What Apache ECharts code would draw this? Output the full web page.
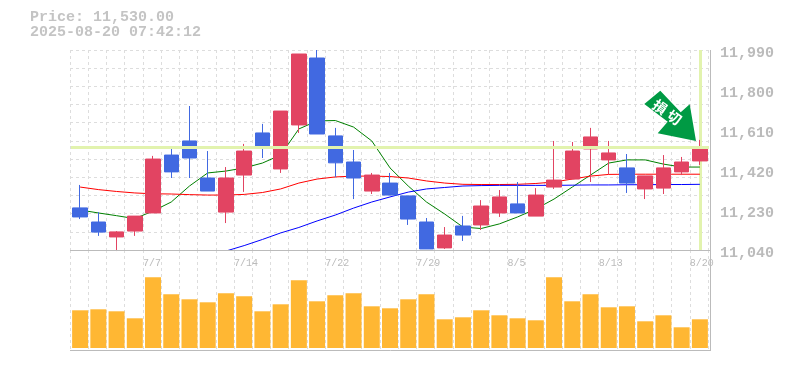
<!DOCTYPE html>
<html><head><meta charset="utf-8">
<style>html,body{margin:0;padding:0;background:#fff}#c{width:785px;height:370px}</style>
<script src="https://cdn.jsdelivr.net/npm/echarts@6/dist/echarts.min.js"></script>
</head><body><div id="c"></div>
<script>
const dates=['7/1','7/2','7/3','7/4','7/7','7/8','7/9','7/10','7/11','7/14','7/15','7/16','7/17','7/18','7/22','7/23','7/24','7/25','7/28','7/29','7/30','7/31','8/1','8/4','8/5','8/6','8/7','8/8','8/12','8/13','8/14','8/15','8/18','8/19','8/20'];
const labeledDates=['7/7','7/14','7/22','7/29','8/5','8/13','8/20'];
const priceLabels=['11,040','11,230','11,420','11,610','11,800','11,990'];
const opens=[11240,11173,11102,11130,11216,11491,11558,11382,11220,11396,11596,11425,11634,11952,11582,11458,11320,11358,11297,11173,11050,11154,11159,11216,11259,11201,11339,11377,11520,11468,11430,11330,11334,11411,11463];
const closes=[11197,11125,11126,11201,11472,11411,11477,11320,11382,11510,11530,11700,11971,11591,11454,11382,11396,11301,11187,11045,11111,11111,11249,11292,11216,11301,11372,11510,11577,11501,11358,11392,11430,11458,11530];
const lows=[11187,11107,11035,11107,11216,11382,11382,11320,11168,11316,11477,11406,11596,11591,11387,11282,11306,11301,11159,11045,11045,11083,11135,11197,11216,11201,11330,11377,11363,11401,11311,11282,11306,11396,11444];
const highs=[11349,11220,11130,11201,11487,11525,11724,11510,11434,11544,11639,11700,11971,11990,11620,11515,11406,11406,11297,11192,11149,11202,11277,11325,11363,11334,11558,11553,11620,11558,11496,11392,11491,11482,11563];
const ma5=[11230,11216,11203,11189,11225,11268,11344,11406,11415,11430,11453,11491,11615,11653,11655,11624,11558,11430,11344,11268,11211,11149,11142,11164,11197,11235,11282,11339,11396,11453,11468,11468,11448,11434,11434];
const ma25=[11339,11327,11318,11311,11307,11306,11303,11301,11301,11304,11313,11330,11358,11377,11387,11391,11391,11389,11382,11368,11358,11352,11351,11351,11352,11356,11363,11377,11391,11399,11400,11400,11400,11400,11400];
const ma75=[null,null,null,null,null,null,null,null,11035,11061,11090,11121,11147,11178,11206,11239,11268,11292,11315,11330,11337,11344,11346,11347,11347,11347,11347,11348,11349,11349,11350,11350,11351,11351,11352];
const volumes=[377,387,367,297,707,537,487,457,547,517,367,437,677,467,527,547,417,397,487,537,287,307,377,327,297,277,707,467,537,407,417,267,327,207,287];
const currentPrice=11530;
const priceText='Price: 11,530.00';
const timeText='2025-08-20 07:42:12';
const signalChars=['損','切'];

const mono='"Liberation Mono","DejaVu Sans Mono",monospace';
const gray='#bbbbbb', gridGray='#dddddd', hl='#e2f3ae';
const up='#e24462', down='#4169e1';
const candle=dates.map((d,i)=>[opens[i],closes[i],lows[i],highs[i]]);
const tickCats=dates.concat(['']);
const dash={type:[3,3],color:gridGray,width:1};
const rot=-Math.PI*35/180;

const chart=echarts.init(document.getElementById('c'),null,{renderer:'canvas'});
chart.setOption({
 animation:false,
 backgroundColor:'#fff',
 textStyle:{fontFamily:mono},
 grid:[
  {left:71,width:638,top:50,height:200},
  {left:71,width:638,top:250,height:98},
  {left:70,width:638,top:50,height:200},
  {left:70,width:638,top:250,height:100},
  {left:70,width:640,top:53,height:200}
 ],
 xAxis:[
  {gridIndex:0,type:'category',data:dates,axisLine:{show:false},axisTick:{show:false},axisLabel:{show:false}},
  {gridIndex:1,type:'category',data:dates,axisLine:{show:false},axisTick:{show:false},axisLabel:{show:false}},
  {gridIndex:2,type:'category',boundaryGap:false,data:tickCats,axisLine:{show:false},axisTick:{show:false},
   splitLine:{show:true,interval:0,lineStyle:dash},
   axisLabel:{show:true,interval:(i,v)=>labeledDates.includes(v),align:'left',margin:8,hideOverlap:false,color:gray,fontSize:10,fontFamily:mono}},
  {gridIndex:3,type:'category',boundaryGap:false,data:tickCats,axisLine:{show:false},axisTick:{show:false},
   splitLine:{show:true,interval:0,lineStyle:dash},axisLabel:{show:false}},
  {gridIndex:4,type:'value',min:0,max:1,show:false}
 ],
 yAxis:[
  {gridIndex:0,type:'value',min:11040,max:11990,show:false,splitLine:{show:false}},
  {gridIndex:1,type:'value',min:0,max:980,show:false,splitLine:{show:false}},
  {gridIndex:2,type:'value',min:0,max:11,interval:1,axisLine:{show:false},axisTick:{show:false},axisLabel:{show:false},splitLine:{show:true,lineStyle:dash}},
  {gridIndex:3,type:'value',min:0,max:1,show:false,splitLine:{show:false}},
  {gridIndex:4,type:'value',position:'right',min:0,max:5,interval:1,axisLine:{show:false},axisTick:{show:false},splitLine:{show:false},
   axisLabel:{show:true,margin:10,color:gray,fontSize:15,fontFamily:mono,fontWeight:'bold',formatter:v=>priceLabels[v]}}
 ],
 series:[
  {type:'line',name:'MA5',xAxisIndex:0,yAxisIndex:0,data:ma5,showSymbol:false,lineStyle:{color:'#008000',width:1},z:3,
   markLine:{silent:true,symbol:'none',label:{show:false},lineStyle:{color:hl,width:3,type:'solid'},data:[{yAxis:currentPrice}]}},
  {type:'line',name:'MA25',xAxisIndex:0,yAxisIndex:0,data:ma25,showSymbol:false,lineStyle:{color:'#ff0000',width:1},z:3},
  {type:'line',name:'MA75',xAxisIndex:0,yAxisIndex:0,data:ma75,showSymbol:false,lineStyle:{color:'#0000ff',width:1},z:3},
  {type:'candlestick',xAxisIndex:0,yAxisIndex:0,data:candle,barWidth:15,z:4,
   itemStyle:{color:up,color0:down,borderColor:up,borderColor0:down,borderWidth:1},
   markLine:{silent:true,symbol:'none',label:{show:false},lineStyle:{color:hl,width:3,type:'solid'},z:2,data:[{xAxis:'8/20'}]}},
  {type:'bar',xAxisIndex:1,yAxisIndex:1,data:volumes,barWidth:16,itemStyle:{color:'#ffb733'},z:4}
 ],
 graphic:[
  {type:'text',left:30,top:10,silent:true,style:{text:priceText,font:'bold 15px '+mono,fill:'#c4c4c4'}},
  {type:'text',left:30,top:25,silent:true,style:{text:timeText,font:'bold 15px '+mono,fill:'#c4c4c4'}},
  {type:'line',silent:true,z:10,shape:{x1:710.5,y1:50,x2:710.5,y2:351},style:{stroke:gray,lineWidth:1}},
  {type:'line',silent:true,z:10,shape:{x1:70,y1:250.5,x2:711,y2:250.5},style:{stroke:gray,lineWidth:1}},
  {type:'line',silent:true,z:10,shape:{x1:70,y1:350.5,x2:711,y2:350.5},style:{stroke:gray,lineWidth:1}},
  {type:'polygon',silent:true,z:20,shape:{points:[[660.3,90.7],[644.3,104],[667.7,121.7],[657.7,133.3],[696,141],[689.7,104.3],[680.7,112.3]]},style:{fill:'#009a44'}},
  {type:'text',silent:true,z:21,x:660,y:107,rotation:rot,style:{text:signalChars[0],font:'bold 14px "Noto Sans CJK JP"',fill:'#fff',align:'center',verticalAlign:'middle'}},
  {type:'text',silent:true,z:21,x:674.3,y:117.3,rotation:rot,style:{text:signalChars[1],font:'bold 14px "Noto Sans CJK JP"',fill:'#fff',align:'center',verticalAlign:'middle'}}
 ]
});
</script></body></html>
